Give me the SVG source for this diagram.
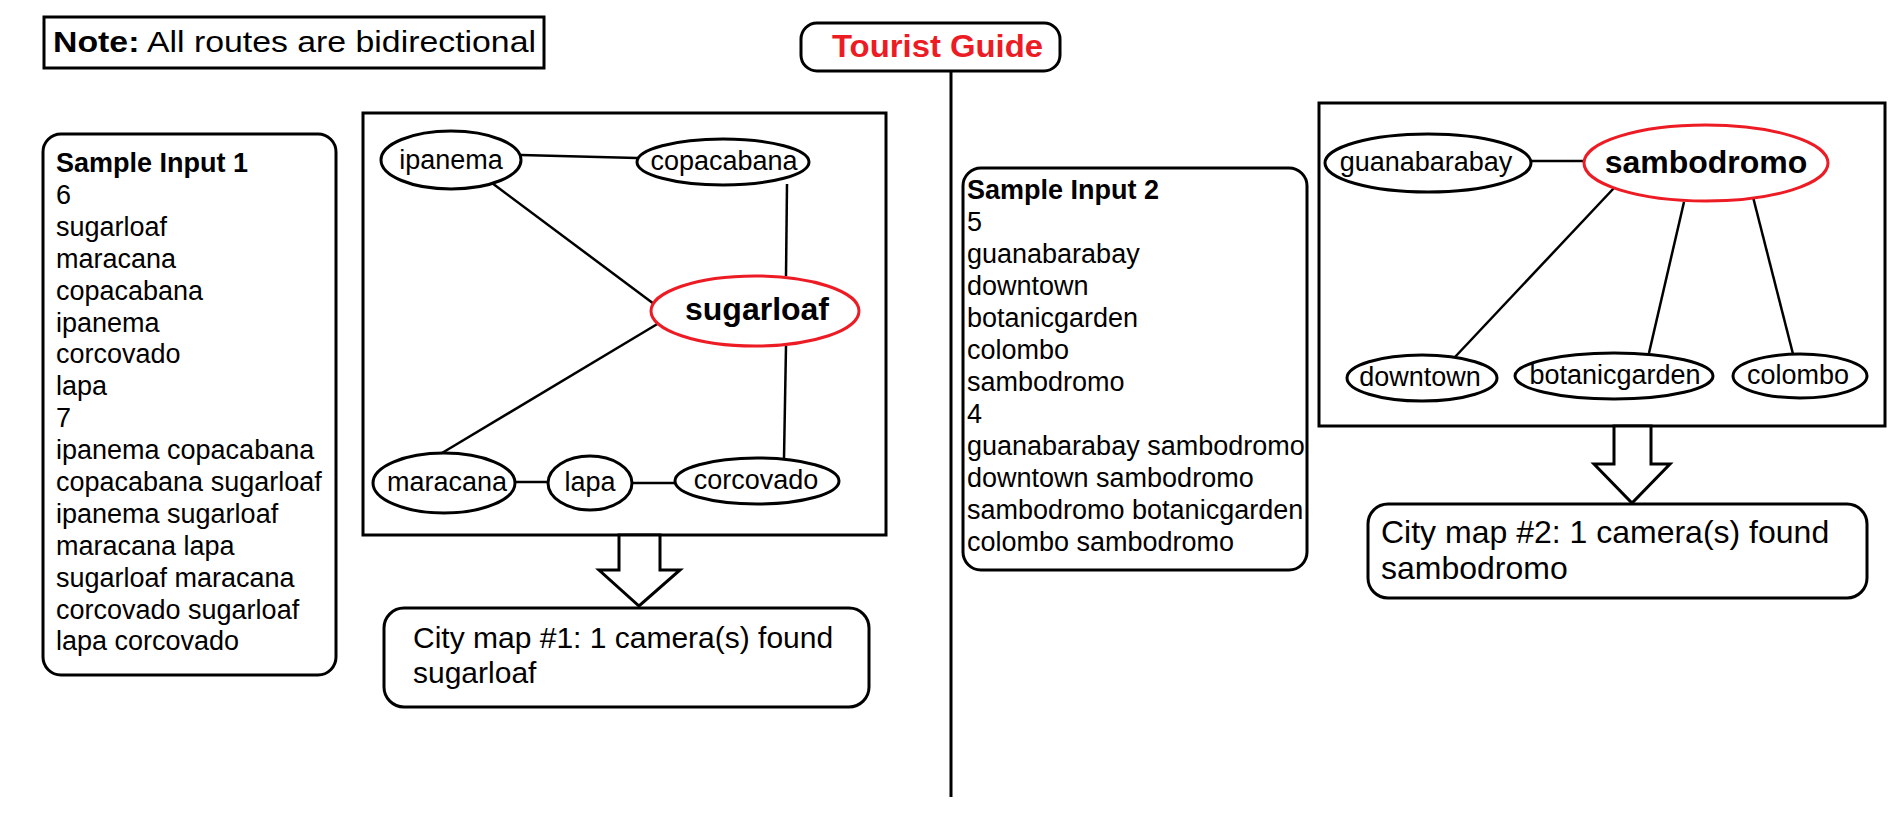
<svg xmlns="http://www.w3.org/2000/svg" width="1904" height="832" viewBox="0 0 1904 832">
<style>
.box{fill:#fff;stroke:#000;stroke-width:3}
.node{fill:#fff;stroke:#000;stroke-width:3}
.hot{fill:#fff;stroke:#ed1c24;stroke-width:3}
.edge{stroke:#000;stroke-width:2.5;fill:none}
.t{font-family:"Liberation Sans",Arial,sans-serif;font-size:27px;fill:#000}
.nt{font-family:"Liberation Sans",Arial,sans-serif;font-size:27px;fill:#000;text-anchor:middle}
.bt{font-family:"Liberation Sans",Arial,sans-serif;font-size:32px;font-weight:bold;fill:#000;text-anchor:middle}
.b{font-weight:bold}
.arrow{fill:#fff;stroke:#000;stroke-width:3;stroke-linejoin:miter}
</style>
<rect width="1904" height="832" fill="#fff"/>

<g id="note">
<rect class="box" x="44" y="17" width="500" height="51"/>
<text x="53" y="52" font-family="'Liberation Sans',Arial,sans-serif" font-size="30" textLength="483" lengthAdjust="spacingAndGlyphs"><tspan font-weight="bold">Note:</tspan> All routes are bidirectional</text>
</g>

<g id="title">
<rect class="box" x="801" y="23" width="259" height="48" rx="16"/>
<text x="832" y="57" font-family="'Liberation Sans',Arial,sans-serif" font-size="31" font-weight="bold" fill="#ed1c24" textLength="211" lengthAdjust="spacingAndGlyphs">Tourist Guide</text>
</g>

<g id="divider">
<line x1="951" y1="71" x2="951" y2="797" stroke="#000" stroke-width="3"/>
</g>

<g id="input1">
<rect class="box" x="43" y="134" width="293" height="541" rx="18"/>
<text class="t" x="56" y="172"><tspan class="b">Sample Input 1</tspan><tspan x="56" dy="31.9">6</tspan><tspan x="56" dy="31.9">sugarloaf</tspan><tspan x="56" dy="31.9">maracana</tspan><tspan x="56" dy="31.9">copacabana</tspan><tspan x="56" dy="31.9">ipanema</tspan><tspan x="56" dy="31.9">corcovado</tspan><tspan x="56" dy="31.9">lapa</tspan><tspan x="56" dy="31.9">7</tspan><tspan x="56" dy="31.9">ipanema copacabana</tspan><tspan x="56" dy="31.9">copacabana sugarloaf</tspan><tspan x="56" dy="31.9">ipanema sugarloaf</tspan><tspan x="56" dy="31.9">maracana lapa</tspan><tspan x="56" dy="31.9">sugarloaf maracana</tspan><tspan x="56" dy="31.9">corcovado sugarloaf</tspan><tspan x="56" dy="31.9">lapa corcovado</tspan></text>
</g>

<g id="map1">
<rect class="box" x="363" y="113" width="523" height="422"/>
</g>

<g id="connectors">
<line class="edge" x1="521" y1="155" x2="637" y2="158"/>
<line class="edge" x1="787" y1="184" x2="786" y2="276"/>
<line class="edge" x1="492" y1="183" x2="654" y2="304"/>
<line class="edge" x1="659" y1="323" x2="442" y2="453"/>
<line class="edge" x1="786" y1="346" x2="784" y2="458"/>
<line class="edge" x1="515" y1="482" x2="548" y2="482"/>
<line class="edge" x1="633" y1="483" x2="676" y2="483"/>
<line class="edge" x1="1532" y1="161" x2="1585" y2="161"/>
<line class="edge" x1="1614" y1="188" x2="1455" y2="357"/>
<line class="edge" x1="1684" y1="202" x2="1649" y2="353"/>
<line class="edge" x1="1753" y1="197" x2="1793" y2="354"/>
</g>

<g id="ipanema"><ellipse class="node" cx="451" cy="160" rx="70" ry="29"/><text class="nt" x="451" y="169">ipanema</text></g>
<g id="copacabana"><ellipse class="node" cx="723" cy="162" rx="86" ry="23"/><text class="nt" x="724" y="170">copacabana</text></g>
<g id="sugarloaf"><ellipse class="hot" cx="755" cy="311" rx="104" ry="35"/><text class="bt" x="757" y="320">sugarloaf</text></g>
<g id="maracana"><ellipse class="node" cx="444" cy="483" rx="71" ry="30"/><text class="nt" x="447" y="491">maracana</text></g>
<g id="lapa"><ellipse class="node" cx="590" cy="483" rx="42" ry="27"/><text class="nt" x="590" y="491">lapa</text></g>
<g id="corcovado"><ellipse class="node" cx="757" cy="481" rx="82" ry="23"/><text class="nt" x="756" y="489">corcovado</text></g>

<g id="arrow1">
<polygon class="arrow" points="619,535 660,535 660,570 680,570 639,606 599,570 619,570"/>
</g>

<g id="output1">
<rect class="box" x="384" y="608" width="485" height="99" rx="20"/>
<text class="t" x="413" y="648" font-size="30" style="font-size:30px">City map #1: 1 camera(s) found<tspan x="413" dy="35">sugarloaf</tspan></text>
</g>

<g id="input2">
<rect class="box" x="963" y="168" width="344" height="402" rx="18"/>
<text class="t" x="967" y="199"><tspan class="b">Sample Input 2</tspan><tspan x="967" dy="32">5</tspan><tspan x="967" dy="32">guanabarabay</tspan><tspan x="967" dy="32">downtown</tspan><tspan x="967" dy="32">botanicgarden</tspan><tspan x="967" dy="32">colombo</tspan><tspan x="967" dy="32">sambodromo</tspan><tspan x="967" dy="32">4</tspan><tspan x="967" dy="32">guanabarabay sambodromo</tspan><tspan x="967" dy="32">downtown sambodromo</tspan><tspan x="967" dy="32">sambodromo botanicgarden</tspan><tspan x="967" dy="32">colombo sambodromo</tspan></text>
</g>

<g id="map2">
<rect class="box" x="1319" y="103" width="566" height="323" fill="none" style="fill:none"/>
</g>

<g id="guanabarabay"><ellipse class="node" cx="1428" cy="163" rx="103" ry="29"/><text class="nt" x="1426" y="171">guanabarabay</text></g>
<g id="sambodromo"><ellipse class="hot" cx="1706" cy="163" rx="122" ry="38"/><text class="bt" x="1706" y="173">sambodromo</text></g>
<g id="downtown"><ellipse class="node" cx="1422" cy="378" rx="75" ry="23"/><text class="nt" x="1420" y="386">downtown</text></g>
<g id="botanicgarden"><ellipse class="node" cx="1614" cy="376" rx="99" ry="23"/><text class="nt" x="1615" y="384">botanicgarden</text></g>
<g id="colombo"><ellipse class="node" cx="1800" cy="376" rx="67" ry="22"/><text class="nt" x="1798" y="384">colombo</text></g>

<g id="arrow2">
<polygon class="arrow" points="1614,426 1651,426 1651,464 1670,464 1632,503 1594,464 1614,464"/>
</g>

<g id="output2">
<rect class="box" x="1368" y="504" width="499" height="94" rx="20"/>
<text class="t" x="1381" y="543" style="font-size:32px">City map #2: 1 camera(s) found<tspan x="1381" dy="36">sambodromo</tspan></text>
</g>
</svg>
